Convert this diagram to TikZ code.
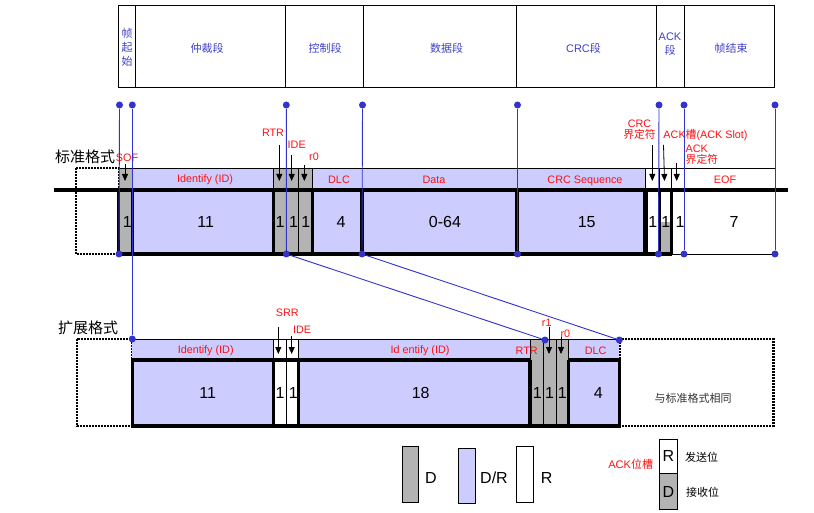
\documentclass[tikz,border=0pt]{standalone}
\usepackage{fontspec}
\setmainfont{Liberation Sans}
\newfontfamily\cjk{Noto Sans CJK SC}
\newcommand\zh[1]{{\cjk #1}}
\usetikzlibrary{arrows.meta}
\definecolor{bluepx}{HTML}{3333CC}
\definecolor{hdrblue}{HTML}{4040C8}
\definecolor{lavender}{HTML}{CCCCFF}
\definecolor{bitgray}{HTML}{B3B3B3}
\definecolor{lblred}{HTML}{FF1010}
\tikzset{
  hdr/.style={font=\fontsize{11}{14}\selectfont, text=hdrblue, align=center, inner sep=0pt},
  lbl/.style={font=\fontsize{10.8}{11.5}\selectfont, text=lblred, inner sep=0pt},
  num/.style={font=\fontsize{16}{16}\selectfont, inner sep=0pt},
  fmtname/.style={font=\fontsize{15}{15}\selectfont\cjk, inner sep=0pt},
  legtxt/.style={font=\fontsize{11}{11}\selectfont\cjk, inner sep=0pt},
  bluedot/.style={circle, fill=bluepx, inner sep=0pt, minimum size=7pt},
  bline/.style={draw=bluepx, line width=0.9pt},
  bitarrow/.style={-{Triangle[length=7pt,width=6pt]}, line width=0.8pt},
  heavy/.style={line width=3.2pt},
  thin/.style={line width=0.9pt},
  sameas/.style={dash pattern=on 2pt off 1pt, line width=2.4pt},
}

\begin{document}
\begin{tikzpicture}[x=1pt,y=-1pt]
\useasboundingbox (0,0) rectangle (814,513);

% segment header
\draw[line width=1pt] (118.3,5.3) rectangle (774.7,87.3);
\foreach \xx in {135.3,285.7,363.3,516.3,656.3,684.3}
  \draw[line width=1pt] (\xx,5.3) -- (\xx,87.3);
\node[hdr] (hsof) at (127,47) {\zh{帧}\\\zh{起}\\\zh{始}};
\node[hdr] (harb) at (207,48) {\zh{仲裁段}};
\node[hdr] (hctl) at (325,48) {\zh{控制段}};
\node[hdr] (hdat) at (446.7,48) {\zh{数据段}};
\node[hdr] (hcrc) at (583.5,48) {CRC\zh{段}};
\node[hdr] (hack) at (670,44) {ACK\\\zh{段}};
\node[hdr] (heof) at (731,48) {\zh{帧结束}};

% standard format
\node[fmtname] (stdname) at (85,157) {标准格式};
\draw[sameas] (76,168) rectangle (118.7,254);
\fill[bitgray] (118.7,168) rectangle (132.3,254);
\fill[lavender] (132.3,168) rectangle (273.3,254);
\fill[bitgray] (273.3,168) rectangle (312.7,254);
\fill[lavender] (312.7,168) rectangle (645,254);
\fill[bitgray] (659.3,221.7) rectangle (671.7,254);
\draw[thin] (118.7,168) -- (775,168);
\foreach \xx in {273.3,286.7,298.7,312.7}
  \draw[thin] (\xx,168) -- (\xx,254);
\foreach \xx in {645,659.3,671.7}
  \draw[thin] (\xx,168) -- (\xx,190);
\draw[heavy] (54,190) -- (788,190);
\draw[heavy] (117.1,254) -- (671.7,254);
\draw[thin] (671.7,254) -- (775,254);
\foreach \xx in {118.7,132.3,273.3,312.7,362,517,659.3,671.7}
  \draw[heavy] (\xx,190) -- (\xx,254);
\draw[line width=4.5pt] (645.5,190) -- (645.5,254);

\node[num] (s1) at (127.3,222) {1};
\node[num] (s2) at (205.7,222) {11};
\node[num] (s3) at (280,222) {1};
\node[num] (s4) at (293.5,222) {1};
\node[num] (s5) at (305.7,222) {1};
\node[num] (s6) at (341,222) {4};
\node[num] (s7) at (445,222) {0-64};
\node[num] (s8) at (586.7,222) {15};
\node[num] (s9) at (652.7,222) {1};
\node[num] (s10) at (665.7,222) {1};
\node[num] (s11) at (680,222) {1};
\node[num] (s12) at (734,222) {7};

\node[lbl] (lsof) at (127,158) {SOF};
\node[lbl] (lid) at (205,180) {Identify (ID)};
\node[lbl] (lrtr) at (273,133) {RTR};
\node[lbl] (lide) at (296.7,145) {IDE};
\node[lbl] (lr0) at (314,157) {r0};
\node[lbl] (ldlc) at (339,180) {DLC};
\node[lbl] (ldata) at (434,180) {Data};
\node[lbl] (lcrc) at (585,181) {CRC Sequence};
\node[lbl] (leof) at (725,180) {EOF};
\node[lbl, align=center] (lcrcd) at (639.5,129.5) {CRC\\\zh{界定符}};
\node[lbl] (lslot) at (705.5,135) {ACK\zh{槽}(ACK Slot)};
\node[lbl, align=left, anchor=west] (lackd) at (685.5,154.5) {ACK\\\zh{界定符}};

\coordinate (sofa) at (125,164);   \coordinate (sofb) at (125,181);
\coordinate (rtra) at (279.3,145); \coordinate (rtrb) at (279.3,181);
\coordinate (idea) at (291.7,155); \coordinate (ideb) at (291.7,181);
\coordinate (rza) at (304.3,165);  \coordinate (rzb) at (304.3,181);
\coordinate (crca) at (652.3,145); \coordinate (crcb) at (652.3,181);
\coordinate (slota) at (663.5,145); \coordinate (slotb) at (664.5,181);
\coordinate (ackda) at (676.7,163); \coordinate (ackdb) at (676.7,181);
\draw[bitarrow] (sofa) -- (sofb);
\draw[bitarrow] (rtra) -- (rtrb);
\draw[bitarrow] (idea) -- (ideb);
\draw[bitarrow] (rza) -- (rzb);
\draw[bitarrow] (crca) -- (crcb);
\draw[bitarrow] (slota) -- (slotb);
\draw[bitarrow] (ackda) -- (ackdb);

% extended format
\node[fmtname] (extname) at (88,328) {扩展格式};
\draw[sameas] (76.7,339) rectangle (132.3,426);
\draw[sameas] (619.3,339) rectangle (773.3,426);
\fill[lavender] (132.3,339) rectangle (273.3,426);
\fill[lavender] (298.3,339) rectangle (530,426);
\fill[bitgray] (530,339) rectangle (568.3,426);
\fill[lavender] (568.3,339) rectangle (619.3,426);
\draw[thin] (132.3,339) -- (619.3,339);
\foreach \xx in {273.3,286.7,298.3,530,543.3,556.7,568.3}
  \draw[thin] (\xx,339) -- (\xx,426);
\draw[heavy] (130.7,360) -- (530,360);
\draw[heavy] (568.3,360) -- (620.9,360);
\draw[heavy] (130.7,426) -- (620.9,426);
\foreach \xx in {132.3,273.3,298.3,530,568.3,619.3}
  \draw[heavy] (\xx,360) -- (\xx,426);

\node[num] (x1) at (207.7,393) {11};
\node[num] (x2) at (280,393) {1};
\node[num] (x3) at (293.3,393) {1};
\node[num] (x4) at (420.7,393) {18};
\node[num] (x5) at (537.3,393) {1};
\node[num] (x6) at (549.5,393) {1};
\node[num] (x7) at (562.3,393) {1};
\node[num] (x8) at (598.3,393) {4};
\node[font=\fontsize{11}{11}\selectfont\cjk, text=black!80, inner sep=0pt] (xsame) at (693,398) {与标准格式相同};

\node[lbl] (xlid) at (205.7,351) {Identify (ID)};
\node[lbl] (xlsrr) at (287.3,313) {SRR};
\node[lbl] (xlide) at (302,330) {IDE};
\node[lbl] (xlid2) at (420,351) {Id entify (ID)};
\node[lbl] (xlrtr) at (526.7,351) {RTR};
\node[lbl] (xlr1) at (546.7,323) {r1};
\node[lbl] (xlr0) at (565.3,334) {r0};
\node[lbl] (xldlc) at (595.7,351) {DLC};

\coordinate (srra) at (278.3,327); \coordinate (srrb) at (278.3,354);
\coordinate (xidea) at (291.7,336); \coordinate (xideb) at (291.7,354);
\coordinate (ronea) at (549,327);  \coordinate (roneb) at (549,354);
\coordinate (xrza) at (561,337);   \coordinate (xrzb) at (561,354);
\draw[bitarrow] (srra) -- (srrb);
\draw[bitarrow] (xidea) -- (xideb);
\draw[bitarrow] (ronea) -- (roneb);
\draw[bitarrow] (xrza) -- (xrzb);

% blue guide lines
\node[bluedot] (t1) at (119.5,105) {};
\node[bluedot] (t2) at (132.3,105) {};
\node[bluedot] (t3) at (286.3,105) {};
\node[bluedot] (t4) at (362.5,105) {};
\node[bluedot] (t5) at (517.5,105) {};
\node[bluedot] (t6) at (659,105) {};
\node[bluedot] (t7) at (684,105) {};
\node[bluedot] (t8) at (775,105) {};
\node[bluedot] (b1) at (119,254) {};
\node[bluedot] (b3) at (286.3,254) {};
\node[bluedot] (b4) at (362,254) {};
\node[bluedot] (b5) at (517.5,254) {};
\node[bluedot] (b6) at (658.5,254) {};
\node[bluedot] (b7) at (684,254) {};
\node[bluedot] (b8) at (775,254) {};
\node[bluedot] (e2) at (132.3,339) {};
\node[bluedot] (e3) at (545,340) {};
\node[bluedot] (e4) at (619.3,340) {};
\draw[bline] (t1) -- (b1);
\draw[bline] (t2) -- (e2);
\draw[bline] (t3) -- (b3) -- (e3);
\draw[bline] (t4) -- (b4) -- (e4);
\draw[bline] (t5) -- (b5);
\draw[bline] (t6) -- (b6);
\draw[bline] (t7) -- (b7);
\draw[bline] (t8) -- (b8);

% legend
\draw[thin, fill=bitgray] (402.3,446) rectangle (418.3,502.3);
\node[font=\fontsize{16}{16}\selectfont, inner sep=0pt] (kd) at (431,478) {D};
\draw[thin, fill=lavender] (458.3,448) rectangle (475,503.3);
\node[font=\fontsize{16}{16}\selectfont, inner sep=0pt] (kdr) at (494,478) {D/R};
\draw[thin, fill=white] (516.7,446) rectangle (533.3,502);
\node[font=\fontsize{16}{16}\selectfont, inner sep=0pt] (kr) at (546.7,478) {R};
\node[font=\fontsize{11}{11}\selectfont, text=lblred, inner sep=0pt] (kslot) at (630.7,464.3) {ACK\zh{位槽}};
\draw[thin, fill=white] (659.3,439) rectangle (677.3,473.3);
\node[font=\fontsize{16}{16}\selectfont, inner sep=0pt] (ksr) at (668.3,456) {R};
\draw[thin, fill=bitgray] (659.3,473.3) rectangle (677.3,509.3);
\node[font=\fontsize{16}{16}\selectfont, inner sep=0pt] (ksd) at (668.3,491.5) {D};
\node[legtxt] (ksend) at (701.7,457.7) {发送位};
\node[legtxt] (krecv) at (702.7,492.3) {接收位};
\end{tikzpicture}
\end{document}
